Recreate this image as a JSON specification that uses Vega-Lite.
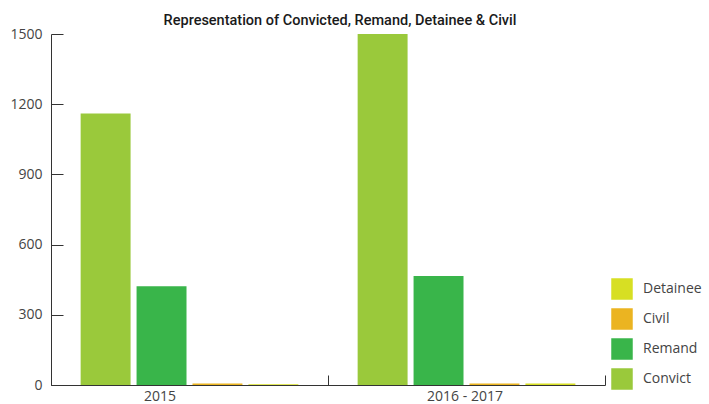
{
  "$schema": "https://vega.github.io/schema/vega-lite/v6.json",
  "width": 554,
  "height": 351,
  "autosize": {"type": "none"},
  "padding": {"left": 51, "top": 34, "right": 104, "bottom": 19},
  "background": "white",
  "title": {
    "text": "Representation of Convicted,  Remand, Detainee & Civil",
    "anchor": "middle",
    "frame": "group",
    "dx": 12,
    "dy": 10,
    "offset": 9,
    "font": "Roboto",
    "fontSize": 14.5,
    "fontWeight": 500,
    "color": "#1a1a1a"
  },
  "data": {
    "values": [
      {"period": "2015", "category": "Convict", "count": 1160},
      {"period": "2015", "category": "Remand", "count": 422},
      {"period": "2015", "category": "Civil", "count": 6},
      {"period": "2015", "category": "Detainee", "count": 3},
      {"period": "2016 - 2017", "category": "Convict", "count": 1500},
      {"period": "2016 - 2017", "category": "Remand", "count": 466},
      {"period": "2016 - 2017", "category": "Civil", "count": 6},
      {"period": "2016 - 2017", "category": "Detainee", "count": 6}
    ]
  },
  "config": {
    "view": {"stroke": null},
    "axis": {
      "labelFont": "Open Sans",
      "labelFontSize": 14,
      "labelColor": "#444",
      "domainColor": "#333",
      "tickColor": "#333",
      "grid": false,
      "title": null
    },
    "legend": {
      "labelFont": "Open Sans",
      "labelFontSize": 14,
      "labelColor": "#444"
    }
  },
  "mark": {"type": "bar"},
  "encoding": {
    "x": {
      "field": "period",
      "type": "nominal",
      "scale": {"paddingInner": 0, "paddingOuter": 0},
      "axis": {
        "labelAngle": 0,
        "tickBand": "extent",
        "tickSize": -10,
        "labelPadding": 14,
        "labelBaseline": "top",
        "labelOffset": {"expr": "datum.value == '2015' ? -30 : -2"}
      }
    },
    "xOffset": {
      "field": "category",
      "type": "nominal",
      "sort": ["Convict", "Remand", "Civil", "Detainee"],
      "scale": {"paddingInner": 0.107, "paddingOuter": 0.53}
    },
    "y": {
      "field": "count",
      "type": "quantitative",
      "scale": {"domain": [0, 1500], "nice": false},
      "axis": {
        "values": [0, 300, 600, 900, 1200, 1500],
        "format": "d",
        "tickSize": -12,
        "labelPadding": 21
      }
    },
    "color": {
      "field": "category",
      "type": "nominal",
      "scale": {
        "domain": ["Detainee", "Civil", "Remand", "Convict"],
        "range": ["#d7df23", "#ebb421", "#39b54a", "#9ac93b"]
      },
      "legend": {
        "title": null,
        "orient": "none",
        "legendX": 560,
        "legendY": 244,
        "symbolType": "square",
        "symbolSize": 462,
        "symbolStrokeWidth": 0,
        "symbolOpacity": 1,
        "rowPadding": 8,
        "labelOffset": 10
      }
    }
  }
}
